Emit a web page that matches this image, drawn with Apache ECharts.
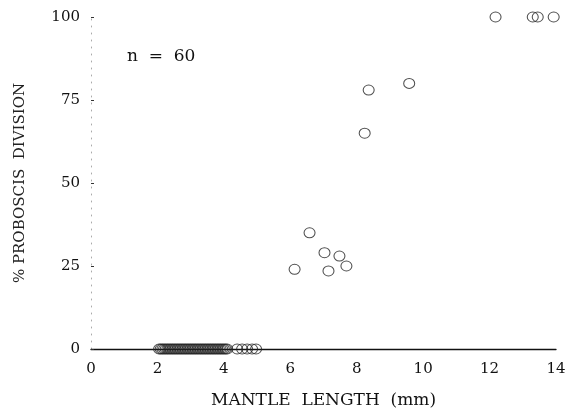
<!DOCTYPE html>
<html>
<head>
<meta charset="utf-8">
<script src="https://cdn.jsdelivr.net/npm/echarts@6/dist/echarts.min.js"></script>
<style>
  html, body { margin: 0; padding: 0; background: #fff; }
  #chart { width: 571px; height: 414px; }
</style>
</head>
<body>
<div id="chart"></div>
<script>
// Mantle length (mm) of animals with no proboscis division
const zeroLengths = [
  2.05, 2.1, 2.15, 2.2, 2.25, 2.3, 2.35, 2.4, 2.45, 2.5,
  2.55, 2.6, 2.65, 2.7, 2.75, 2.8, 2.85, 2.9, 2.95, 3.0,
  3.05, 3.1, 3.15, 3.2, 3.25, 3.3, 3.35, 3.4, 3.45, 3.5,
  3.55, 3.6, 3.65, 3.7, 3.75, 3.8, 3.85, 3.9, 3.95, 4.0,
  4.05, 4.1, 4.4, 4.55, 4.7, 4.85, 4.97
];
// Animals showing some proboscis division: length (mm) and percent
const divLengths = [6.13, 6.58, 7.03, 7.15, 7.48, 7.69, 8.24, 8.36, 9.58, 12.18, 13.3, 13.45, 13.93];
const divPercent = [24, 35, 29, 23.5, 28, 25, 65, 78, 80, 100, 100, 100, 100];

const xTicks = [0, 2, 4, 6, 8, 10, 12, 14];
const yTicks = [0, 25, 50, 75, 100];

const points = zeroLengths.map(x => [x, 0])
  .concat(divLengths.map((x, i) => [x, divPercent[i]]));

const serif = '"DejaVu Serif", "Liberation Serif", serif';

const chart = echarts.init(document.getElementById('chart'));
chart.setOption({
  animation: false,
  backgroundColor: '#fff',
  grid: { left: 91, right: 15, top: 17, bottom: 65 },
  xAxis: {
    type: 'value',
    min: xTicks[0],
    max: xTicks[xTicks.length - 1],
    interval: 2,
    name: 'MANTLE  LENGTH  (mm)',
    nameLocation: 'middle',
    nameGap: 43,
    nameTextStyle: { fontFamily: serif, fontSize: 17, color: '#111' },
    axisLine: { show: true, lineStyle: { color: '#111', width: 1.3 } },
    axisTick: { show: false },
    splitLine: { show: false },
    axisLabel: { fontFamily: serif, fontSize: 15, color: '#111', margin: 13 }
  },
  yAxis: {
    type: 'value',
    min: yTicks[0],
    max: yTicks[yTicks.length - 1],
    interval: 25,
    name: '% PROBOSCIS  DIVISION',
    nameLocation: 'middle',
    nameRotate: 90,
    nameGap: 63,
    nameTextStyle: { fontFamily: serif, fontSize: 15, color: '#222' },
    axisLine: { show: true, lineStyle: { color: '#aaa', width: 1, type: [1, 6] } },
    axisTick: { show: true, inside: true, length: 3, lineStyle: { color: '#333' } },
    splitLine: { show: false },
    axisLabel: { fontFamily: serif, fontSize: 15, color: '#111', margin: 11 }
  },
  graphic: [{
    type: 'text',
    left: 127,
    top: 48,
    style: { text: 'n  =  60', font: '17px ' + serif, fill: '#111' }
  }],
  series: [{
    type: 'scatter',
    data: points,
    symbol: 'circle',
    symbolSize: [11, 10],
    clip: false,
    itemStyle: { color: 'rgba(0,0,0,0)', borderColor: '#222', borderWidth: 1 }
  }]
});
</script>
</body>
</html>
